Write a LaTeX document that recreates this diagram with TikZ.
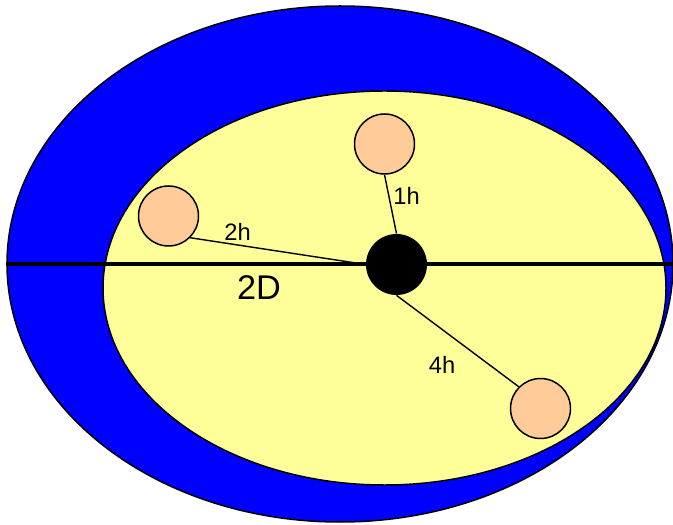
\documentclass[tikz,border=0pt]{standalone}
\usepackage{fontspec}
\setmainfont{Liberation Sans}
\usetikzlibrary{shapes.geometric}
\definecolor{paleyellow}{HTML}{FFFF99}
\definecolor{peach}{HTML}{FFCC99}
\begin{document}
\begin{tikzpicture}[
  ball/.style={circle, draw, line width=0.85pt, fill=peach, minimum size=1.2cm, inner sep=0pt},
  lbl/.style={font=\fontsize{13.5}{16}\selectfont, inner sep=0pt}]
\useasboundingbox (0,0) rectangle (13.46,10.48);
% outer and inner ellipse
\node[ellipse, draw, line width=0.85pt, fill=blue, minimum width=13.32cm, minimum height=10.32cm, inner sep=0pt] (outer) at (6.8,5.2) {};
\node[ellipse, draw, line width=0.85pt, fill=paleyellow, minimum width=11.26cm, minimum height=7.88cm, inner sep=0pt] (inner) at (7.69,4.72) {};
\draw[line width=2pt] (outer.west) -- (outer.east);
% hub and balls
\node[circle, fill=black, minimum size=1.22cm, inner sep=0pt] (hub) at (7.93,5.19) {};
\node[ball] (top) at (7.69,7.6) {};
\node[ball] (left) at (3.37,6.16) {};
\node[ball] (low) at (10.81,2.31) {};
\draw[line width=0.8pt] (top.south) -- (hub.north);
\draw[line width=0.8pt] (left.south east) -- (hub.west);
\draw[line width=0.8pt] (hub.south) -- (low.north west);
% labels
\node[lbl] (t1h) at (8.13,6.57) {1h};
\node[lbl] (t2h) at (4.75,5.85) {2h};
\node[lbl] (t4h) at (8.84,3.19) {4h};
\node[font=\fontsize{19.5}{23}\selectfont, inner sep=0pt] (t2D) at (5.18,4.72) {2D};
\end{tikzpicture}
\end{document}
